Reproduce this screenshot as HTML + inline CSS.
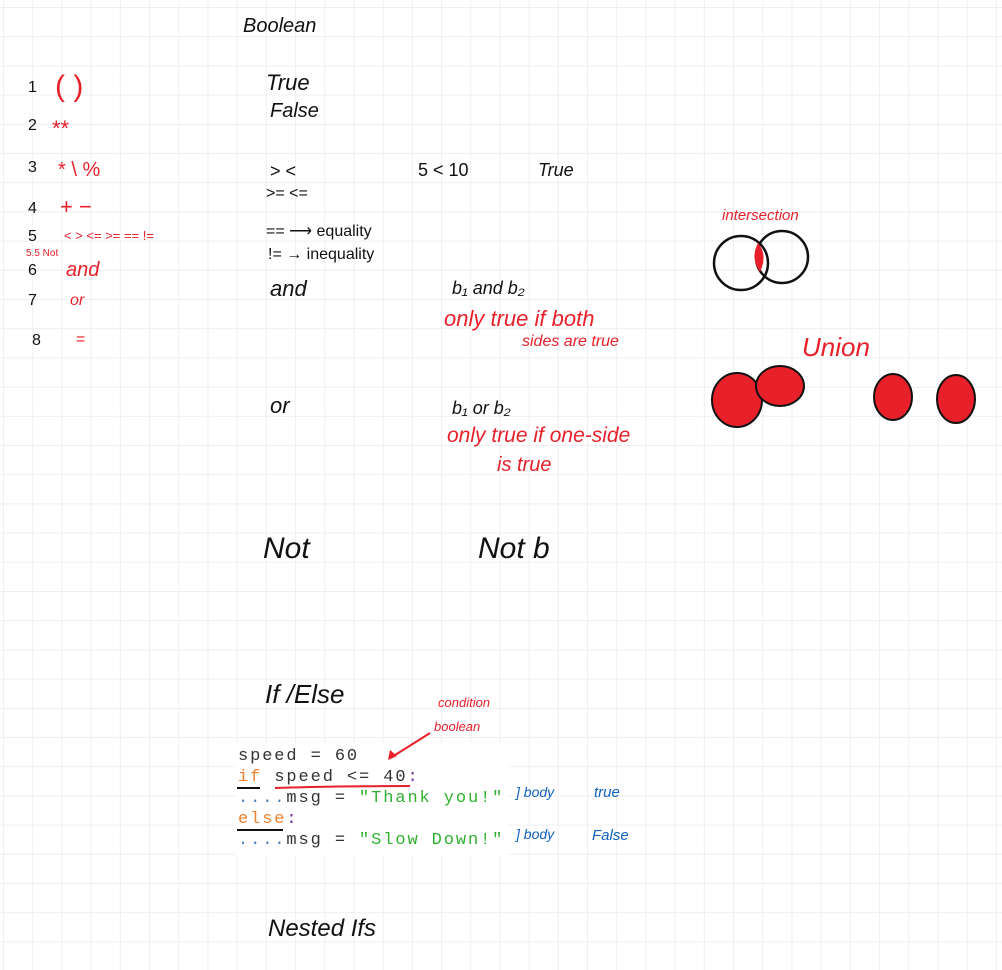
<!DOCTYPE html>
<html><head><meta charset="utf-8"><style>
html,body{margin:0;padding:0;background:#fff;}
svg{display:block;}
text{font-family:"Liberation Sans",sans-serif;}
.h{font-family:"Liberation Sans",sans-serif;font-style:italic;}
.r{fill:#e8202a;}
.b{fill:#1060c0;}
.k{fill:#111;}
.m{font-family:"Liberation Mono",monospace;font-size:17px;letter-spacing:1.9px;}
</style></head><body>
<svg width="1002" height="970" viewBox="0 0 1002 970">
<defs>
<pattern id="grid" x="3" y="7" width="29.2" height="29.2" patternUnits="userSpaceOnUse">
<path d="M0.5 0V29.2M0 0.5H29.2" stroke="#efefef" stroke-width="1" fill="none"/>
</pattern>
</defs>
<rect width="1002" height="970" fill="url(#grid)"/>

<text x="243" y="32" font-size="20" class="k h">Boolean</text>

<g font-size="16">
<text x="28" y="92" class="k">1</text><text x="55" y="96" font-size="30" class="r">( )</text>
<text x="28" y="130" class="k">2</text><text x="52" y="136" font-size="22" class="r">**</text>
<text x="28" y="172" class="k">3</text><text x="58" y="176" font-size="20" class="r">* \ %</text>
<text x="28" y="213" class="k">4</text><text x="60" y="214" font-size="22" class="r">+ −</text>
<text x="28" y="241" class="k">5</text><text x="64" y="240" font-size="13" class="r">&lt; &gt;  &lt;= &gt;=  ==  !=</text>
<text x="26" y="256" font-size="10" class="r">5.5  Not</text>
<text x="28" y="275" class="k">6</text><text x="66" y="276" font-size="20" class="r h">and</text>
<text x="28" y="305" class="k">7</text><text x="70" y="305" font-size="16" class="r h">or</text>
<text x="32" y="345" class="k">8</text><text x="76" y="344" font-size="16" class="r">=</text>
</g>

<g class="k">
<text x="266" y="90" font-size="22" class="h">True</text>
<text x="270" y="117" font-size="20" class="h">False</text>
<text x="270" y="177" font-size="18">&gt;  &lt;</text>
<text x="418" y="176" font-size="18">5  &lt; 10</text>
<text x="538" y="176" font-size="18" class="h">True</text>
<text x="266" y="198" font-size="16">&gt;= &lt;=</text>
<text x="266" y="236" font-size="16">== ⟶ equality</text>
<text x="268" y="259" font-size="16">!= → inequality</text>
<text x="270" y="296" font-size="22" class="h">and</text>
<text x="452" y="294" font-size="18" class="h">b₁ and b₂</text>
<text x="444" y="326" font-size="22" class="r h">only true if both</text>
<text x="522" y="346" font-size="16" class="r h">sides are true</text>
<text x="270" y="413" font-size="22" class="h">or</text>
<text x="452" y="414" font-size="18" class="h">b₁ or b₂</text>
<text x="447" y="442" font-size="21" class="r h">only true if one-side</text>
<text x="497" y="471" font-size="20" class="r h">is true</text>
<text x="263" y="558" font-size="30" class="h">Not</text>
<text x="478" y="558" font-size="30" class="h">Not b</text>
<text x="265" y="703" font-size="26" class="h">If /Else</text>
<text x="268" y="936" font-size="24" class="h">Nested Ifs</text>
</g>

<g>
<text x="722" y="220" font-size="15" class="r h">intersection</text>
<ellipse cx="741" cy="263" rx="27" ry="27" fill="none" stroke="#111" stroke-width="2.5"/>
<ellipse cx="782" cy="257" rx="26" ry="26" fill="none" stroke="#111" stroke-width="2.5"/>
<path d="M758 243 Q768 255 760 272 Q750 258 758 243Z" fill="#e8202a"/>
<text x="802" y="356" font-size="26" class="r h">Union</text>
<ellipse cx="737" cy="400" rx="25" ry="27" fill="#e8202a" stroke="#111" stroke-width="2"/>
<ellipse cx="780" cy="386" rx="24" ry="20" fill="#e8202a" stroke="#111" stroke-width="2"/>
<ellipse cx="893" cy="397" rx="19" ry="23" fill="#e8202a" stroke="#111" stroke-width="2"/>
<ellipse cx="956" cy="399" rx="19" ry="24" fill="#e8202a" stroke="#111" stroke-width="2"/>
</g>

<g>
<text x="438" y="707" font-size="13" class="r h">condition</text>
<text x="434" y="731" font-size="13" class="r h">boolean</text>
<rect x="236" y="743" width="272" height="112" fill="#fff"/>
<path d="M430 733 L392 757" stroke="#e8202a" stroke-width="2" fill="none"/>
<path d="M388 760 L390 750 L397 756Z" fill="#e8202a"/>
<text x="238" y="760" class="m" fill="#333">speed = 60</text>
<text x="238" y="781" class="m"><tspan fill="#f08030">if</tspan><tspan fill="#333"> speed &lt;= 40</tspan><tspan fill="#7030a0">:</tspan></text>
<path d="M275 788 Q330 786 410 786" stroke="#e8202a" stroke-width="2" fill="none"/>
<path d="M237 788 L260 788" stroke="#111" stroke-width="2"/>
<text x="238" y="802" class="m"><tspan fill="#4a80c0">....</tspan><tspan fill="#333">msg = </tspan><tspan fill="#30b030">"Thank you!"</tspan></text>
<text x="238" y="823" class="m"><tspan fill="#f08030">else</tspan><tspan fill="#7030a0">:</tspan></text>
<path d="M237 830 L283 830" stroke="#111" stroke-width="2"/>
<text x="238" y="844" class="m"><tspan fill="#4a80c0">....</tspan><tspan fill="#333">msg = </tspan><tspan fill="#30b030">"Slow Down!"</tspan></text>
<text x="516" y="797" font-size="14" class="b h">] body</text>
<text x="594" y="797" font-size="15" class="b h">true</text>
<text x="516" y="839" font-size="14" class="b h">] body</text>
<text x="592" y="840" font-size="15" class="b h">False</text>
</g>
</svg>
</body></html>
